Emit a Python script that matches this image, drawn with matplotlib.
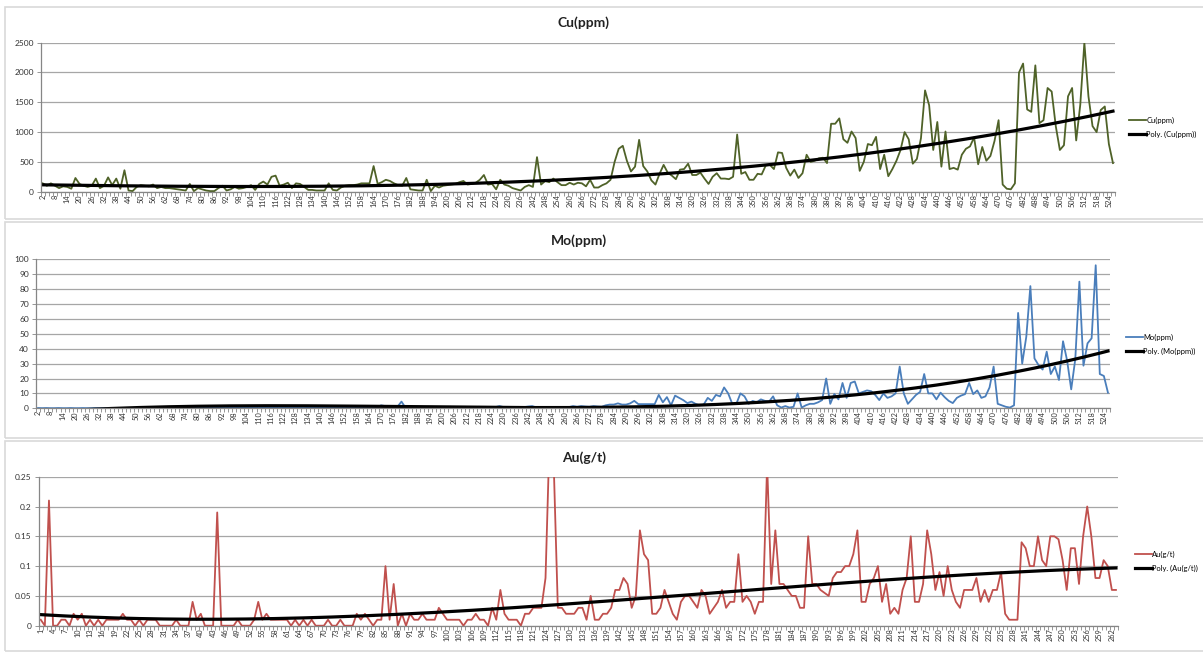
import numpy as np
import matplotlib.pyplot as plt
from matplotlib.patches import Rectangle

plt.rcParams['font.family'] = ['Lato', 'DejaVu Sans']

W, H = 1203, 653

# sample numbers (category axis labels)
cu_cats = list(range(2, 527, 2))
au_cats = list(range(1, 264))

cu_ppm = [
    140, 100, 140, 100, 60, 90, 80, 50, 230, 130,
    100, 80, 100, 220, 60, 100, 240, 110, 220, 50,
    360, 20, 10, 80, 110, 100, 90, 120, 60, 80,
    60, 60, 50, 40, 30, 20, 130, 10, 60, 40,
    20, 10, 10, 60, 100, 20, 40, 80, 50, 60,
    80, 110, 30, 130, 170, 120, 250, 270, 100, 120,
    150, 60, 140, 130, 80, 30, 30, 20, 20, 20,
    140, 30, 20, 70, 100, 110, 110, 120, 140, 140,
    140, 430, 130, 160, 200, 180, 140, 110,
    100, 230, 40, 30, 20, 20, 200, 10, 100, 70,
    100, 110, 120, 130, 160, 180, 120, 130, 150, 200,
    280, 120, 130, 40, 200, 120, 100, 60, 40, 20,
    80, 110, 80, 580, 120, 180, 160, 220, 160, 110,
    110, 150, 120, 150, 140, 90, 200, 70, 70, 110,
    140, 200, 500, 720, 770, 520, 340, 420, 870, 430,
    340, 190, 120, 300, 450, 320, 270, 210, 370, 380,
    470, 280, 280, 320, 220, 130, 250, 310, 220, 220,
    210, 250, 960, 300, 330, 200, 200, 300, 290, 440,
    450, 380, 660, 650, 400, 270, 370, 230,
    310, 620, 500, 520, 560, 570, 480, 1140, 1140, 1230,
    880, 820, 1010, 900, 350, 500, 800, 780, 920, 380,
    620, 260, 380, 520, 700, 1000, 880, 470, 550, 900,
    1700, 1450, 700, 1170, 420, 1010, 380, 400, 370, 620,
    720, 760, 910, 460, 750, 520, 600, 850, 1200, 120,
    50, 40, 140, 2000, 2150, 1380, 1340, 2120, 1150, 1200,
    1740, 1680, 1100, 700, 780, 1600, 1740, 860, 1460, 2500,
    1600, 1100, 1000, 1370, 1430, 800, 480,
]

mo_ppm = [
    0.2, 0.1, 0.2, 0.1, 0.1, 0.2, 0.1, 0.1, 0.2, 0.1,
    0.1, 0.2, 0.1, 0.1, 0.2, 0.1, 0.1, 0.2, 0.2, 0.1,
    0.2, 0.1, 0.3, 0.2, 0.2, 0.3, 0.2, 0.4, 0.3, 0.2,
    0.3, 0.4, 0.3, 0.2, 0.5, 0.3, 0.4, 0.3, 0.2, 0.4,
    0.3, 0.5, 0.4, 0.3, 0.5, 0.3, 0.2, 0.6, 0.4, 0.3,
    0.5, 0.4, 0.3, 0.5, 0.2, 0.4, 0.5, 0.3, 0.4, 0.2,
    0.5, 0.3, 0.4, 0.5, 0.3, 0.2, 0.4, 0.5, 0.3, 0.4,
    0.3, 0.5, 0.4, 0.3, 0.5, 0.3, 0.4, 0.5, 0.3, 0.4,
    0.3, 0.5, 0.4, 0.3, 2.0, 1.5, 0.5, 1.0,
    1.0, 4.5, 0.3, 0.3, 0.4, 0.3, 0.3, 0.4, 0.3, 0.3,
    0.4, 0.3, 0.5, 1.0, 0.6, 0.4, 0.3, 0.4, 0.5, 0.6,
    1.0, 0.5, 0.4, 0.3, 0.8, 1.5, 0.8, 0.4, 0.3, 0.3,
    0.3, 0.8, 1.2, 1.5, 0.6, 0.3, 0.3, 0.3, 0.3, 0.3,
    0.4, 0.8, 0.8, 1.5, 1.0, 1.5, 1.2, 1.0, 1.5, 1.2,
    1.0, 2.0, 2.5, 2.5, 3.3, 2.5, 2.5, 3.3, 5.0, 2.8,
    2.8, 2.8, 2.8, 2.8, 9.0, 4.0, 7.5, 2.0, 8.5, 7.0,
    5.5, 3.5, 4.5, 3.0, 2.0, 2.5, 7.0, 5.0, 9.0, 8.0,
    14.0, 10.0, 3.0, 3.0, 10.0, 8.0, 3.0, 5.0, 4.0, 6.0,
    5.0, 4.5, 8.0, 2.0, 0.5, 1.5, 0.5, 1.0,
    10, 0.5, 2, 3, 3, 4, 5.5, 20, 3, 9.6,
    6, 17, 7, 17, 18, 10, 11, 12, 11.5, 9,
    5.5, 10, 7, 8, 10, 28, 10, 3, 6, 9,
    11, 23, 10, 10, 6, 10.5, 7.5, 5, 3.5, 7,
    8.5, 9.5, 17, 9.5, 12, 7, 8, 14, 28, 3,
    2, 1, 0.5, 2, 64, 30, 48, 82, 33.5, 29,
    26, 38, 23, 28, 19, 45, 32, 12.7, 33, 85,
    28.6, 43.6, 47, 96, 23, 21.7, 10.5,
]

au_gt = [
    0.01, 0, 0.21, 0, 0, 0.01, 0.01, 0, 0.02, 0.01,
    0.02, 0, 0.01, 0, 0.01, 0, 0.01, 0.01, 0.01, 0.01,
    0.02, 0.01, 0.01, 0, 0.01, 0, 0.01, 0.01, 0.01, 0,
    0, 0, 0, 0.01, 0, 0, 0, 0.04, 0.01, 0.02,
    0, 0, 0, 0.19, 0, 0, 0, 0, 0.01, 0,
    0, 0, 0.01, 0.04, 0.01, 0.02, 0.01, 0.01, 0.01, 0.01,
    0.01, 0, 0.01, 0, 0.01, 0, 0.01, 0, 0, 0,
    0.01, 0, 0, 0.01, 0, 0, 0, 0.02, 0.01, 0.02,
    0.01, 0, 0.01, 0.01, 0.1, 0.01, 0.07, 0,
    0.02, 0, 0.02, 0.01, 0.01, 0.02, 0.01, 0.01, 0.01, 0.03,
    0.02, 0.01, 0.01, 0.01, 0.01, 0, 0.01, 0.01, 0.02, 0.01, 0.01,
    0, 0.03, 0.01, 0.06, 0.02, 0.01, 0.01, 0.01, 0, 0.02,
    0.02, 0.03, 0.03, 0.03, 0.08, 0.32, 0.27, 0.03, 0.03, 0.02,
    0.02, 0.02, 0.03, 0.03, 0.01, 0.05, 0.01, 0.01, 0.02, 0.02,
    0.03, 0.06, 0.06, 0.08, 0.07, 0.03, 0.05, 0.16, 0.12, 0.11,
    0.02, 0.02, 0.03, 0.06, 0.04, 0.02, 0.01, 0.04, 0.05, 0.05,
    0.04, 0.03, 0.06, 0.05, 0.02, 0.03, 0.04, 0.06, 0.03, 0.04,
    0.04, 0.12, 0.04, 0.05, 0.04, 0.02, 0.04, 0.04, 0.27, 0.07,
    0.16, 0.07, 0.07, 0.06, 0.05, 0.05, 0.03,
    0.03, 0.15, 0.07, 0.07, 0.06, 0.055, 0.05, 0.08, 0.09, 0.09,
    0.1, 0.1, 0.12, 0.16, 0.04, 0.04, 0.07, 0.08, 0.1, 0.04,
    0.07, 0.02, 0.03, 0.02, 0.06, 0.08, 0.15, 0.04, 0.04, 0.07,
    0.16, 0.12, 0.06, 0.09, 0.05, 0.1, 0.06, 0.04, 0.03, 0.06,
    0.06, 0.06, 0.08, 0.04, 0.06, 0.04, 0.06, 0.06, 0.09, 0.02,
    0.01, 0.01, 0.01, 0.14, 0.13, 0.1, 0.1, 0.15, 0.11, 0.1,
    0.15, 0.15, 0.145, 0.11, 0.06, 0.13, 0.13, 0.07, 0.15, 0.2,
    0.15, 0.08, 0.08, 0.11, 0.1, 0.06, 0.06,
]

fig = plt.figure(figsize=(W / 100, H / 100), dpi=100)

GRID = '#a6a6a6'
AXIS = '#868686'


def box(x0, y0, x1, y1):
    fig.patches.append(Rectangle((x0 / W, 1 - y1 / H), (x1 - x0) / W, (y1 - y0) / H,
                                 transform=fig.transFigure, fill=False,
                                 edgecolor='#d9d9d9', lw=1.2))


def panel(area, title, title_y, cats, vals, color, name, ymax, ystep, legend_xy, order):
    l, t, r, b = area
    ax = fig.add_axes([l / W, 1 - b / H, (r - l) / W, (b - t) / H])
    n = len(vals)
    x = np.arange(n)
    ax.plot(x, vals, color=color, lw=1.3, label=name)
    # polynomial trendline like Excel's "Poly."
    xs = x + 1.0
    coef = np.polyfit(xs, vals, order)
    ax.plot(x, np.polyval(coef, xs), color='black', lw=2.3, label='Poly. (%s)' % name)

    ax.set_xlim(-0.5, n - 0.5)
    ax.set_ylim(0, ymax)
    yt = np.arange(0, ymax + ystep / 2, ystep)
    ax.set_yticks(yt)
    ax.set_yticklabels(['%g' % v for v in yt], fontsize=6, color='#333333')
    ax.set_xticks(x[::3])
    ax.set_xticklabels([str(c) for c in cats[::3]], rotation=90, fontsize=5.3, color='#333333')
    ax.set_xticks(np.arange(n + 1) - 0.5, minor=True)
    ax.tick_params(axis='x', which='major', length=0, pad=2)
    ax.tick_params(axis='x', which='minor', length=3, color=AXIS, width=0.6)
    ax.tick_params(axis='y', length=3, color=AXIS, width=0.6, pad=2)
    ax.grid(axis='y', color=GRID, lw=0.9)
    ax.set_axisbelow(True)
    for s in ('top', 'right'):
        ax.spines[s].set_visible(False)
    for s in ('left', 'bottom'):
        ax.spines[s].set_color(AXIS)
        ax.spines[s].set_linewidth(0.9)

    fig.text(0.5 * (l + r) / W + 0.005, 1 - title_y / H, title, ha='center', va='center',
             fontsize=10, fontweight='bold', color='#222222')
    ax.legend(loc='center left', bbox_to_anchor=(legend_xy[0] / W, 1 - legend_xy[1] / H),
              bbox_transform=fig.transFigure, frameon=False, fontsize=5.4,
              handlelength=2.3, handletextpad=0.05, labelspacing=0.9, borderpad=0)
    return ax


box(5, 7, 1210, 219)
box(5, 222, 1210, 438)
box(5, 441, 1210, 651)

panel((40.7, 42.7, 1115, 191.7), 'Cu(ppm)', 23, cu_cats, cu_ppm, '#4f6228', 'Cu(ppm)',
      2500, 500, (1125, 127), 3)
panel((36, 259.3, 1110, 408.3), 'Mo(ppm)', 241, cu_cats, mo_ppm, '#4a7ebb', 'Mo(ppm)',
      100, 10, (1122, 344), 3)
panel((38.7, 476.7, 1118, 625.7), 'Au(g/t)', 458, au_cats, au_gt, '#c0504d', 'Au(g/t)',
      0.25, 0.05, (1131, 561), 3)

fig.savefig('out.png', dpi=100)
